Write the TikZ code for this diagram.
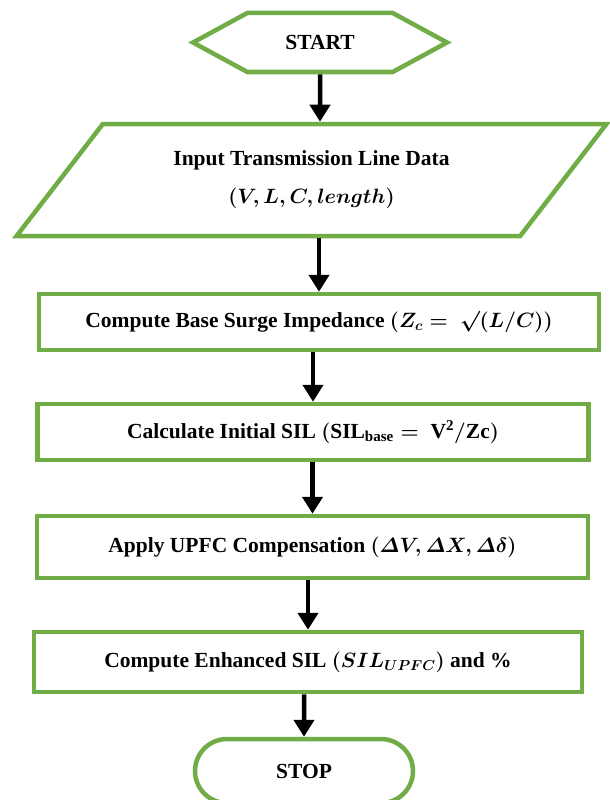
\documentclass[tikz,border=0pt]{standalone}
\usepackage{amsmath}
\usepackage{fontspec}
\setmainfont{Liberation Serif}
\usetikzlibrary{shapes.geometric,shapes.symbols,shapes.misc,arrows.meta}
\definecolor{boxgreen}{HTML}{70AD47}

\begin{document}
\begin{tikzpicture}[x=1pt,y=-1pt,
	box/.style={draw=boxgreen,line width=4.5pt,inner sep=0,font=\fontsize{21.5}{26}\selectfont\bfseries\boldmath},
	flow/.style={line width=4.5pt,-{Triangle[width=20pt,length=17pt]}}]
	\useasboundingbox (0,0) rectangle (610,800);
	\node[box,signal,signal to=west and east,signal pointer angle=57,minimum width=254pt,minimum height=59pt] (1) at (320,42.5) {START};
	\node[box,trapezium,trapezium left angle=45.5,trapezium right angle=134.5,trapezium stretches=true,minimum width=593pt,minimum height=112pt,align=center] (2) at (311.5,180) {Input Transmission Line Data\\[12pt]$(V, L, C, length)$};
	\node[box,rectangle,minimum width=560pt,minimum height=56pt] (3) at (319,322) {Compute Base Surge Impedance $(Z_c =\ \surd(L/C))$};
	\node[box,rectangle,minimum width=551pt,minimum height=56pt] (4) at (313,432) {Calculate Initial SIL $(\mathrm{SIL_{base}} =\ \mathrm{V^2/Zc})$};
	\node[box,rectangle,minimum width=551pt,minimum height=62pt] (5) at (312.5,547) {Apply UPFC Compensation $(\varDelta V, \varDelta X, \varDelta\delta)$};
	\node[box,rectangle,minimum width=548pt,minimum height=60pt] (6) at (308,662) {Compute Enhanced SIL $(SIL_{UPFC})$ and \%};
	\node[box,rounded rectangle,minimum width=218pt,minimum height=64pt] (7) at (304,771) {STOP};
	\draw[flow] (1) -- (1 |- 2.north);
	\draw[flow] (2.south -| 3) -- (3);
	\draw[flow] (3.south -| 4) -- (4);
	\draw[flow] (4.south -| 5) -- (5);
	\draw[flow] (5.south -| 6) -- (6);
	\draw[flow] (6.south -| 7) -- (7);
\end{tikzpicture}
\end{document}
